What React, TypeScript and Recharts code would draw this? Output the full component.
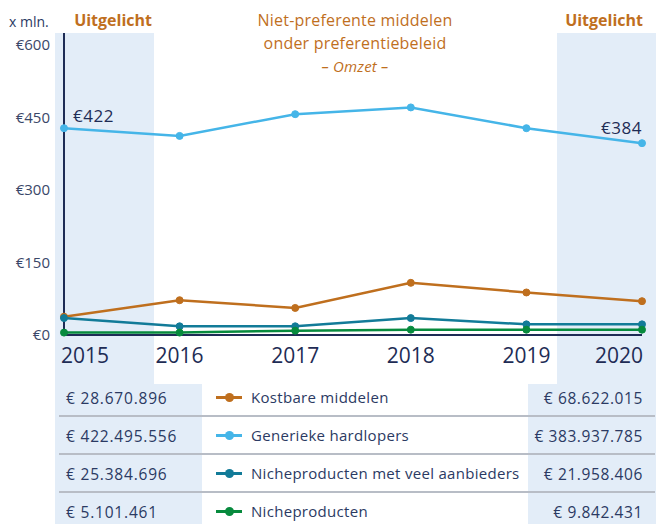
import React from 'react';
import { LineChart, Line, XAxis, YAxis, LabelList } from 'recharts';

const years = ['2015', '2016', '2017', '2018', '2019', '2020'];
const kostbare = [38, 72, 56, 108, 88, 70];
const generieke = [428, 412, 457, 471, 428, 397];
const nicheVeel = [35, 18, 18, 35, 22, 22];
const niche = [5, 5, 9, 11, 11, 11];
const yTicks = [0, 150, 300, 450, 600];

const seriesNames = ['Kostbare middelen', 'Generieke hardlopers', 'Nicheproducten met veel aanbieders', 'Nicheproducten'];
const seriesKeys = ['kostbare', 'generieke', 'nicheVeel', 'niche'];
const seriesColors = ['#BF6F1E', '#45B5E8', '#127B98', '#078A3D'];
const values2015 = ['€ 28.670.896', '€ 422.495.556', '€ 25.384.696', '€ 5.101.461'];
const values2020 = ['€ 68.622.015', '€ 383.937.785', '€ 21.958.406', '€ 9.842.431'];
const endLabels = ['€422', '€384'];

const data = years.map((y, i) => ({
  year: y,
  kostbare: kostbare[i],
  generieke: generieke[i],
  nicheVeel: nicheVeel[i],
  niche: niche[i],
}));

const NAVY = '#1E2C55';
const TEXT = '#2B3A63';
const BAND = '#E3EDF8';
const ORANGE = '#BF6F1E';
const FONT = '"Open Sans", sans-serif';

const YearTick = (props: any) => {
  const { x, y, payload, index } = props;
  const last = index === years.length - 1;
  const anchor = index === 0 ? 'start' : last ? 'end' : 'middle';
  const dx = index === 0 ? -3 : last ? 1 : 0;
  return (
    <text x={x + dx} y={y + 28} textAnchor={anchor} fill={NAVY} fontSize={21} fontFamily={FONT}>
      {payload.value}
    </text>
  );
};

const EndLabel = (props: any) => {
  const { x, y, index } = props;
  if (index === 0) {
    return <text x={x + 9} y={y - 6} fill={NAVY} fontSize={17} fontFamily={FONT} letterSpacing={0.5}>{endLabels[0]}</text>;
  }
  if (index === years.length - 1) {
    return <text x={x} y={y - 9} textAnchor="end" fill={NAVY} fontSize={17} fontFamily={FONT} letterSpacing={0.5}>{endLabels[1]}</text>;
  }
  return null;
};

export default function App() {
  const cell = { position: 'absolute' as const, top: 9, fontSize: 15, color: TEXT };
  return (
    <div style={{ position: 'relative', width: 656, height: 524, background: '#fff', fontFamily: FONT, overflow: 'hidden' }}>
      <style>{`body{margin:0}`}</style>
      {/* highlight bands */}
      <div style={{ position: 'absolute', left: 55, top: 33, width: 99, height: 352, background: BAND }} />
      <div style={{ position: 'absolute', left: 557, top: 33, width: 99, height: 352, background: BAND }} />
      <div style={{ position: 'absolute', left: 55, top: 384, width: 147, height: 140, background: BAND }} />
      <div style={{ position: 'absolute', left: 528, top: 384, width: 128, height: 140, background: BAND }} />

      <div style={{ position: 'absolute', left: 9, top: 12, fontSize: 14, color: TEXT }}>x mln.</div>
      <div style={{ position: 'absolute', right: 504, top: 9, fontSize: 16, fontWeight: 700, color: ORANGE }}>Uitgelicht</div>
      <div style={{ position: 'absolute', right: 13, top: 9, fontSize: 16, fontWeight: 700, color: ORANGE }}>Uitgelicht</div>
      <div style={{ position: 'absolute', left: 205, width: 300, top: 9, textAlign: 'center', fontSize: 16, lineHeight: '23px', color: ORANGE, letterSpacing: 0.2 }}>
        Niet-preferente middelen<br />onder preferentiebeleid<br />
        <span style={{ fontStyle: 'italic', fontSize: 15, lineHeight: '17px' }}>– Omzet –</span>
      </div>

      <div style={{ position: 'absolute', left: 0, top: 0 }}>
        <LineChart width={656} height={385} data={data} margin={{ top: 33, right: 14, left: 0, bottom: 0 }}>
          <XAxis
            dataKey="year"
            height={50}
            tick={<YearTick />}
            tickLine={false}
            tickSize={0}
            tickMargin={0}
            interval={0}
            axisLine={{ stroke: NAVY, strokeWidth: 2 }}
          />
          <YAxis
            width={64}
            domain={[0, 625]}
            ticks={yTicks}
            tickFormatter={(v) => `€${v}`}
            tick={{ fontSize: 15, fill: '#3A4768', fontFamily: FONT }}
            tickLine={false}
            tickSize={0}
            tickMargin={14}
            axisLine={{ stroke: NAVY, strokeWidth: 2 }}
          />
          {seriesKeys.map((k, i) => (
            <Line
              key={k}
              dataKey={k}
              name={seriesNames[i]}
              stroke={seriesColors[i]}
              strokeWidth={2.5}
              dot={{ r: 3.5, fill: seriesColors[i], stroke: seriesColors[i], strokeWidth: 1 }}
              activeDot={false}
              isAnimationActive={false}
            >
              {k === 'generieke' && <LabelList dataKey={k} content={<EndLabel />} />}
            </Line>
          ))}
        </LineChart>
      </div>

      {/* table legend */}
      {seriesNames.map((name, i) => {
        const top = 378 + i * 38;
        return (
          <div key={name} style={{ position: 'absolute', left: 0, top, width: 656, height: 38 }}>
            <div style={{ ...cell, left: 66, fontSize: 15.5, letterSpacing: 0.8 }}>{values2015[i]}</div>
            <div style={{ position: 'absolute', left: 216, top: 18, width: 26, height: 3, background: seriesColors[i] }} />
            <div style={{ position: 'absolute', left: 225, top: 15, width: 9, height: 9, borderRadius: '50%', background: seriesColors[i] }} />
            <div style={{ ...cell, left: 251, letterSpacing: 0.3 }}>{name}</div>
            <div style={{ ...cell, right: 13, fontSize: 15.5, letterSpacing: 0.6 }}>{values2020[i]}</div>
            {i < seriesNames.length - 1 && (
              <div style={{ position: 'absolute', left: 59, top: 37, width: 596, height: 2, background: '#B8BDC6' }} />
            )}
          </div>
        );
      })}
    </div>
  );
}
